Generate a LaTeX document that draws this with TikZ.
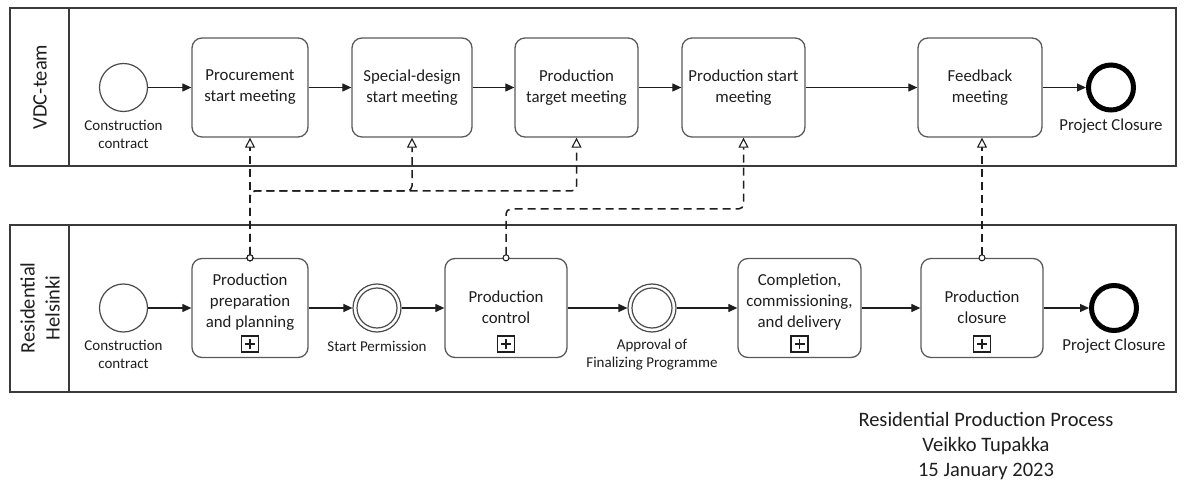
\documentclass[tikz,border=0pt]{standalone}
\usepackage{fontspec}
\setmainfont{Carlito}
\usetikzlibrary{arrows.meta}
\definecolor{ink}{HTML}{1E1E1E}
\definecolor{boxline}{HTML}{5A5A5A}
\definecolor{poolline}{HTML}{3A3A3A}
\definecolor{evline}{HTML}{4A4A4A}
\begin{document}
\begin{tikzpicture}[x=1pt,y=-1pt,
  txt/.style={text=ink, font=\fontsize{16.8}{21}\selectfont, align=center, inner sep=0pt},
  small/.style={text=ink, font=\fontsize{15}{18}\selectfont, align=center, inner sep=0pt},
  lanetxt/.style={text=ink, font=\fontsize{20.5}{25}\selectfont, align=center, inner sep=0pt, rotate=90},
  task/.style={draw=boxline, line width=1.3pt, rounded corners=10pt, minimum height=99pt, inner sep=0pt, txt},
  pool/.style={draw=poolline, line width=1.5pt},
  startev/.style={circle, draw=evline, line width=1.2pt, minimum size=48pt, inner sep=0pt},
  innerev/.style={circle, draw=evline, line width=1.2pt, minimum size=40pt, inner sep=0pt},
  endev/.style={circle, draw=black, line width=5pt, minimum size=45pt, inner sep=0pt},
  plusmark/.style={draw=ink, line width=1.1pt, minimum width=17pt, minimum height=16pt, inner sep=0pt,
    path picture={
      \draw[ink, line width=1.8pt] ([xshift=-5pt]path picture bounding box.center) -- ([xshift=5pt]path picture bounding box.center);
      \draw[ink, line width=1.8pt] ([yshift=-5pt]path picture bounding box.center) -- ([yshift=5pt]path picture bounding box.center);}},
  seq/.style={draw=ink, line width=1.2pt, -{Triangle[length=9pt,width=8pt]}},
  msg/.style={draw=ink, line width=1.5pt, dash pattern=on 8pt off 5pt, rounded corners=5pt,
    shorten <=-3.5pt,
    {Circle[open,length=7pt,width=7pt,fill=white,line width=1pt]}-{Triangle[open,length=10pt,width=10pt,fill=white,line width=1.1pt]}}
]
\useasboundingbox (0,0) rectangle (1184,481);

% pools and lane headers
\draw[pool] (10,8) rectangle (1176,166);
\draw[pool] (69,8) -- (69,166);
\draw[pool] (10,225) rectangle (1176,392);
\draw[pool] (69,225) -- (69,392);
\node[lanetxt] (lane1) at (40,87) {VDC-team};
\node[lanetxt] (lane2) at (40,308) {Residential\\Helsinki};

% VDC-team lane
\node[startev] (s1) at (123.5,87.5) {};
\node[small] (s1l) at (123.5,134) {Construction\\contract};
\node[task, minimum width=116pt] (proc) at (250,87.5) {Procurement\\start meeting};
\node[task, minimum width=120pt] (spec) at (412,87.5) {Special-design\\start meeting};
\node[task, minimum width=123pt] (targ) at (576.5,87.5) {Production\\target meeting};
\node[task, minimum width=123pt] (pstart) at (743.5,87.5) {Production start\\meeting};
\node[task, minimum width=124pt] (feed) at (980,87.5) {Feedback\\meeting};
\node[endev] (e1) at (1111,87.5) {};
\node[txt] (e1l) at (1111,126) {Project Closure};

\draw[seq] (s1) -- (proc);
\draw[seq] (proc) -- (spec);
\draw[seq] (spec) -- (targ);
\draw[seq] (targ) -- (pstart);
\draw[seq] (pstart) -- (feed);
\draw[seq] (feed) -- (e1);

% Residential Helsinki lane
\node[startev] (s2) at (123.5,308) {};
\node[small] (s2l) at (123.5,354.5) {Construction\\contract};
\node[task, minimum width=116pt] (prep) at (250,308) {};
\node[txt] (prept) at (250,302.5) {Production\\preparation\\and planning};
\node[plusmark] (prepm) at (250,344) {};
\node[startev] (perm) at (377,308) {};
\node[innerev] (permi) at (377,308) {};
\node[small] (perml) at (377,346) {Start Permission};
\node[task, minimum width=122pt] (ctrl) at (506,308) {};
\node[txt] (ctrlt) at (506,307.5) {Production\\control};
\node[plusmark] (ctrlm) at (506,344) {};
\node[startev] (appr) at (652,308) {};
\node[innerev] (appri) at (652,308) {};
\node[small] (apprl) at (652,355) {Approval of\\Finalizing Programme};
\node[task, minimum width=123pt] (compl) at (799.5,308) {};
\node[txt] (complt) at (799.5,302.5) {Completion,\\commissioning,\\and delivery};
\node[plusmark] (complm) at (799.5,344) {};
\node[task, minimum width=122pt] (clos) at (982,308) {};
\node[txt] (clost) at (982,307.5) {Production\\closure};
\node[plusmark] (closm) at (982,344) {};
\node[endev] (e2) at (1114,308) {};
\node[txt] (e2l) at (1114,346) {Project Closure};

\draw[seq] (s2) -- (prep);
\draw[seq] (prep) -- (perm);
\draw[seq] (perm) -- (ctrl);
\draw[seq] (ctrl) -- (appr);
\draw[seq] (appr) -- (compl);
\draw[seq] (compl) -- (clos);
\draw[seq] (clos) -- (e2);

% message flows between the lanes
\draw[msg] (prep.north) -- (proc.south);
\draw[msg] (prep.north) -- (prep.north |- 0,191) -- (spec.south |- 0,191) -- (spec.south);
\draw[msg] (prep.north) -- (prep.north |- 0,191) -- (targ.south |- 0,191) -- (targ.south);
\draw[msg] (ctrl.north) -- (ctrl.north |- 0,209) -- (pstart.south |- 0,209) -- (pstart.south);
\draw[msg] (clos.north) -- (clos.north |- feed.south);

% title block
\node[text=ink, font=\fontsize{20.5}{25}\selectfont, align=center, inner sep=0pt] (title) at (986,446)
  {Residential Production Process\\Veikko Tupakka\\15 January 2023};
\end{tikzpicture}
\end{document}
